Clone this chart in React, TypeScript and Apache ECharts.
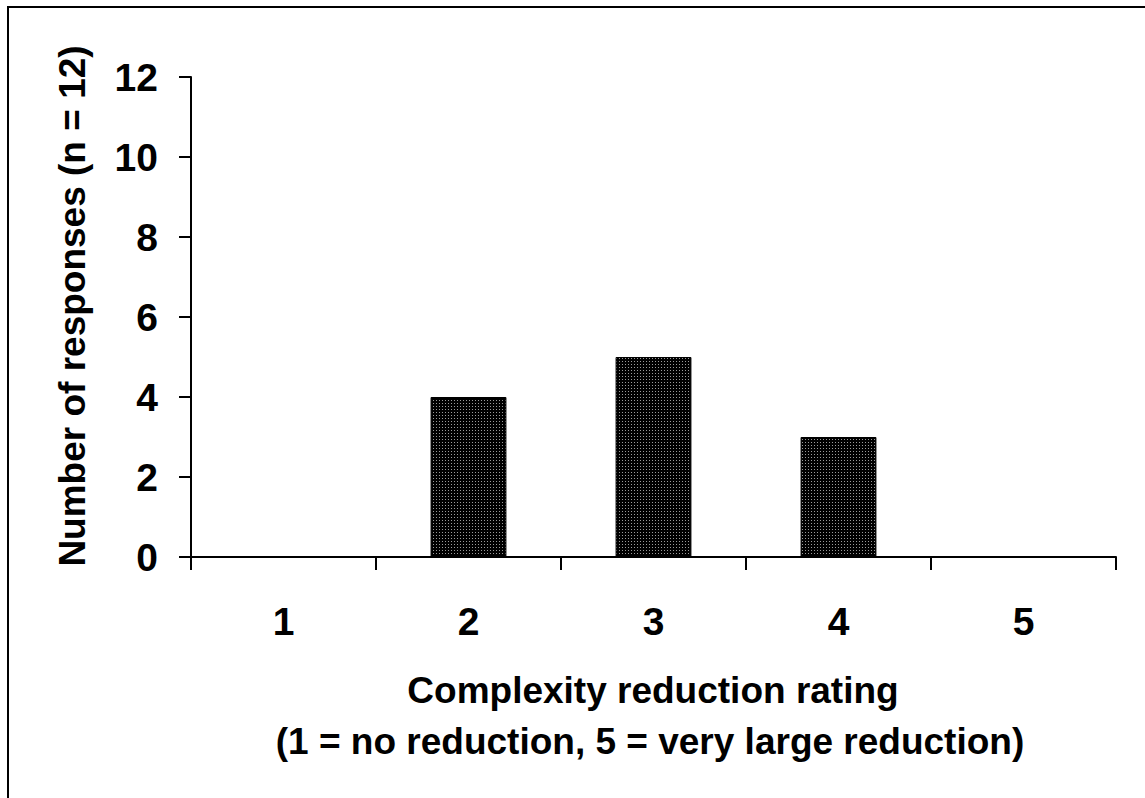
import React, { useEffect, useRef } from "react";
import * as echarts from "echarts";

const categories = ["1", "2", "3", "4", "5"];
const responses = [0, 4, 5, 3, 0];
const yTicks = { min: 0, max: 12, interval: 2 };
const yTitle = "Number of responses (n = 12)";
const xTitleLines = ["Complexity reduction rating", "(1 = no reduction, 5 = very large reduction)"];

const FONT = "Arial, 'Liberation Sans', Helvetica, sans-serif";

function makePattern(): any {
  try {
    const c = document.createElement("canvas");
    c.width = 3;
    c.height = 3;
    const ctx = c.getContext("2d");
    if (!ctx) return "#151515";
    ctx.fillStyle = "#000000";
    ctx.fillRect(0, 0, 3, 3);
    ctx.fillStyle = "#9a9a9a";
    ctx.fillRect(1, 1, 1, 1);
    return { image: c, repeat: "repeat" };
  } catch (e) {
    return "#151515";
  }
}

export default function App() {
  const ref = useRef<HTMLDivElement>(null);
  useEffect(() => {
    if (!ref.current) return;
    const chart = echarts.init(ref.current, undefined, { renderer: "svg" });
    chart.setOption({
      animation: false,
      backgroundColor: "#ffffff",
      grid: { left: 191, top: 77, width: 925, height: 480, containLabel: false },
      xAxis: {
        type: "category",
        data: categories,
        boundaryGap: true,
        axisLine: { lineStyle: { color: "#000", width: 2 } },
        axisTick: { show: true, length: 13, lineStyle: { color: "#000", width: 2 } },
        axisLabel: {
          margin: 45,
          fontSize: 39,
          fontWeight: "bold",
          fontFamily: FONT,
          color: "#000",
        },
        splitLine: { show: false },
      },
      yAxis: {
        type: "value",
        min: yTicks.min,
        max: yTicks.max,
        interval: yTicks.interval,
        axisLine: { show: true, lineStyle: { color: "#000", width: 2 } },
        axisTick: { show: true, length: 12, lineStyle: { color: "#000", width: 2 } },
        axisLabel: {
          margin: 33,
          fontSize: 39,
          fontWeight: "bold",
          fontFamily: FONT,
          color: "#000",
        },
        splitLine: { show: false },
      },
      series: [
        {
          type: "bar",
          data: responses,
          barWidth: "41%",
          itemStyle: { color: makePattern(), borderColor: "#000", borderWidth: 1 },
        },
      ],
      graphic: [
        {
          type: "rect",
          shape: { x: 8, y: 7, width: 1300, height: 1000 },
          style: { fill: "none", stroke: "#000", lineWidth: 2 },
          silent: true,
        },
        {
          type: "text",
          x: 72,
          y: 306,
          rotation: Math.PI / 2,
          style: {
            text: yTitle,
            fontSize: 37,
            fontWeight: "bold",
            fontFamily: FONT,
            fill: "#000",
            align: "center",
            verticalAlign: "middle",
          },
        },
        {
          type: "text",
          x: 653,
          y: 690,
          style: {
            text: xTitleLines[0],
            fontSize: 37,
            fontWeight: "bold",
            fontFamily: FONT,
            fill: "#000",
            align: "center",
            verticalAlign: "middle",
          },
        },
        {
          type: "text",
          x: 650,
          y: 741,
          style: {
            text: xTitleLines[1],
            fontSize: 37,
            fontWeight: "bold",
            fontFamily: FONT,
            fill: "#000",
            align: "center",
            verticalAlign: "middle",
          },
        },
      ],
    });
    return () => chart.dispose();
  }, []);
  return (
    <div
      ref={ref}
      style={{ position: "fixed", left: 0, top: 0, width: 1145, height: 798, background: "#fff" }}
    />
  );
}
